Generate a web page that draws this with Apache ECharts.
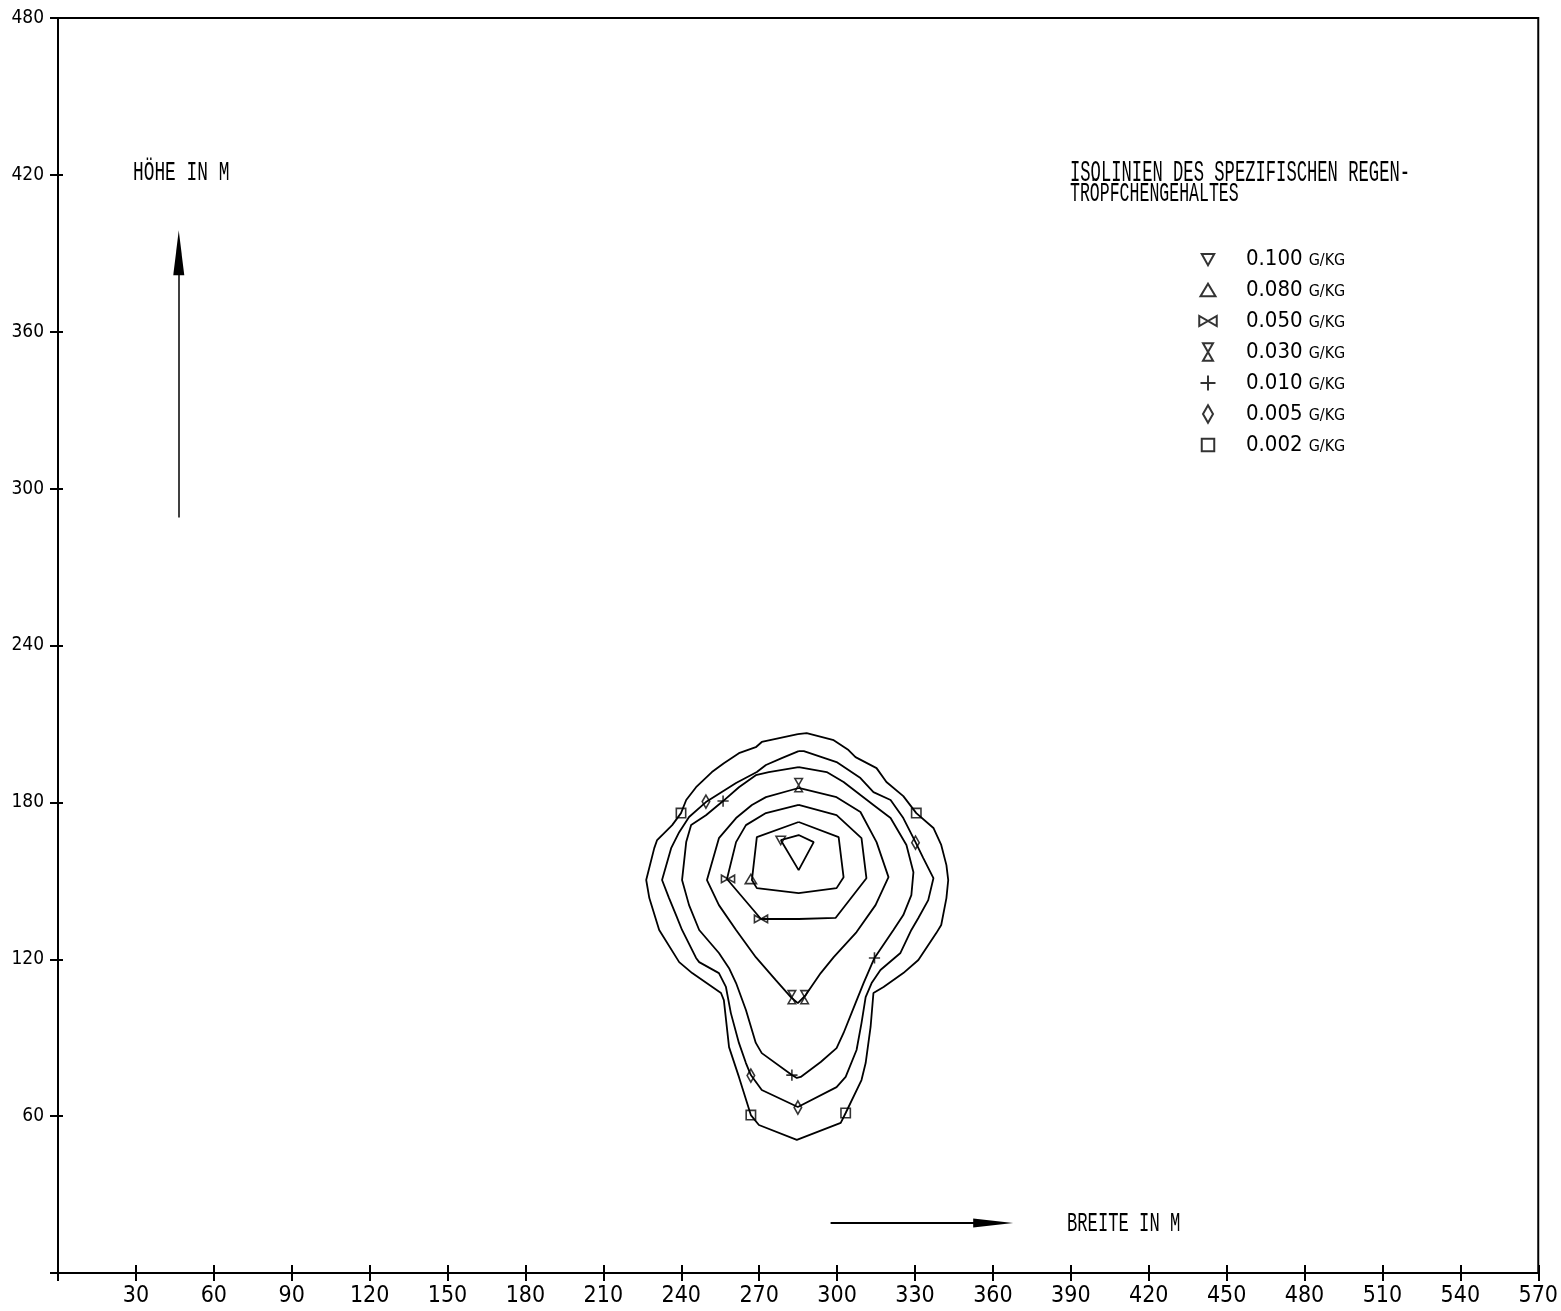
<!DOCTYPE html>
<html>
<head>
<meta charset="utf-8">
<script src="https://cdn.jsdelivr.net/npm/echarts@6/dist/echarts.min.js"></script>
<style>html,body{margin:0;padding:0;background:#fff;}#chart{width:1561px;height:1311px;}</style>
</head>
<body>
<div id="chart"></div>
<script>
// Axis ticks
const xTicks = {min: 0, max: 570, step: 30};
const yTicks = {min: 0, max: 480, step: 60};

// Isolines (x = Breite in m, y = Höhe in m), closed polylines
const iso002 = [[284.9,206.1],[288.3,206.5],[298.7,203.8],[304.4,200.0],[307.1,197.3],[315.2,193.1],[319.0,187.8],[325.5,182.4],[330.5,175.9],[337.1,170.2],[340.1,163.7],[342.1,156.0],[342.8,150.3],[342.1,143.4],[340.1,133.1],[338.2,130.0],[331.3,119.7],[325.5,114.7],[317.9,109.4],[314.0,107.1],[312.9,94.1],[311.0,80.3],[309.4,73.8],[303.3,61.2],[301.4,57.4],[284.5,50.9],[269.9,56.6],[266.8,60.4],[262.2,75.0],[258.4,86.4],[256.4,104.4],[255.3,107.1],[244.2,114.7],[239.2,118.9],[231.5,131.2],[227.7,143.4],[226.5,150.3],[229.6,162.5],[230.7,165.6],[236.5,171.3],[239.9,175.9],[241.9,180.9],[245.7,185.8],[251.8,191.6],[256.4,195.0],[262.2,198.8],[268.7,201.1],[271.0,203.1],[284.9,206.1]];
const iso005 = [[285.2,199.6],[287.2,199.6],[299.8,195.4],[309.0,189.3],[314.0,183.9],[320.6,180.9],[325.5,174.0],[330.2,164.8],[333.2,158.7],[337.1,151.0],[335.1,142.6],[331.3,135.8],[328.6,131.2],[324.4,122.4],[316.7,115.9],[313.3,110.9],[311.0,105.5],[309.4,95.6],[307.5,85.3],[303.3,75.0],[299.8,71.1],[284.9,63.5],[271.0,70.0],[266.8,75.7],[264.9,80.3],[262.2,88.0],[259.1,99.4],[257.2,109.4],[254.5,114.7],[246.9,118.9],[245.7,120.5],[240.3,131.2],[238.0,136.9],[235.3,143.4],[232.6,150.3],[236.1,162.5],[239.2,168.6],[243.0,174.4],[249.5,180.1],[261.1,187.4],[269.1,191.6],[272.6,194.3],[278.7,196.9],[285.2,199.6]];
const iso010 = [[285.2,193.5],[296.0,191.6],[302.5,187.8],[309.0,182.8],[314.0,179.0],[320.6,174.0],[326.7,163.7],[329.4,153.3],[328.6,144.5],[325.5,136.9],[321.7,131.2],[314.4,120.5],[310.2,110.9],[307.1,103.2],[302.5,91.8],[299.8,86.0],[293.7,80.7],[286.0,75.0],[284.5,74.6],[282.6,75.7],[271.0,84.1],[268.7,88.0],[264.9,100.6],[261.1,110.9],[258.4,116.6],[254.5,122.4],[246.9,131.2],[243.0,140.7],[240.3,150.3],[241.9,164.8],[243.8,171.3],[249.5,175.1],[256.1,180.5],[262.2,185.8],[268.7,190.4],[273.7,191.6],[285.2,193.5]];
const iso030 = [[285.2,185.5],[299.8,182.0],[309.0,176.3],[315.2,164.8],[319.8,151.4],[314.8,140.7],[307.5,130.4],[298.7,120.8],[293.7,114.7],[287.9,106.3],[284.9,103.2],[282.2,105.5],[276.4,112.0],[268.7,120.8],[261.1,131.2],[254.5,140.7],[249.9,150.3],[254.5,166.3],[261.1,174.0],[267.2,179.0],[272.6,182.0],[285.2,185.5]];
const iso050 = [[285.2,179.0],[299.8,175.1],[309.4,166.3],[311.3,151.0],[299.4,135.8],[285.2,135.4],[270.7,135.4],[257.6,150.7],[261.1,164.8],[264.9,171.3],[272.6,175.9],[285.2,179.0]];
const iso080 = [[285.2,172.5],[300.6,166.7],[302.5,151.4],[299.8,147.2],[285.2,145.3],[269.1,147.2],[267.2,150.3],[269.1,166.7],[285.2,172.5]];
const iso100 = [[278.3,165.6],[285.2,167.5],[291.0,164.8],[285.2,154.1],[278.3,165.6]];

// Marker positions on the isolines
const mark002 = [[239.9,175.9],[330.5,175.9],[266.8,60.4],[303.3,61.2]];
const mark005 = [[249.5,180.3],[330.2,164.6],[266.8,75.5],[284.9,63.3]];
const mark010 = [[256.1,180.5],[314.4,120.5],[282.6,75.7]];
const mark030 = [[285.2,186.6],[282.6,105.5],[287.5,105.5]];
const mark050 = [[258.0,150.7],[270.7,135.4]];
const mark080 = [[266.8,150.7]];
const mark100 = [[278.3,165.6]];

const levels = ['0.100','0.080','0.050','0.030','0.010','0.005','0.002'];
const unit = 'G/KG';

// Annotation arrows (data units)
const upArrow = [[46.5, 289.0], [46.5, 390.2]];
const rightArrow = [[297.5, 19.1], [360.1, 19.1]];

// Marker shapes in a common 16x16 frame
const F = 'M0,0 M16,16 ';
const shapes = {
  '0.100': 'path://' + F + 'M3,4 L13,4 L8,13 Z',
  '0.080': 'path://' + F + 'M2,13 L14,13 L8,3 Z',
  '0.050': 'path://' + F + 'M1,4 L1,12 L15,4 L15,12 Z',
  '0.030': 'path://' + F + 'M4,1 L12,1 L4,15 L12,15 Z',
  '0.010': 'path://' + F + 'M2,8 L14,8 M8,2 L8,14',
  '0.005': 'path://' + F + 'M8,1 L12,8 L8,15 L4,8 Z',
  '0.002': 'path://' + F + 'M3,3 L13,3 L13,13 L3,13 Z'
};
const isoData = {'0.100': iso100,'0.080': iso080,'0.050': iso050,'0.030': iso030,'0.010': iso010,'0.005': iso005,'0.002': iso002};
const markData = {'0.100': mark100,'0.080': mark080,'0.050': mark050,'0.030': mark030,'0.010': mark010,'0.005': mark005,'0.002': mark002};

// Long narrow arrow heads (square frame so the symbol keeps its slim shape)
const headUp = 'path://M0,0 M45,45 M22.5,0 L28,45 L17,45 Z';
const headRight = 'path://M0,0 M40,40 M20,0 L24.5,40 L15.5,40 Z';

const NARROW = '"Liberation Sans Narrow","DejaVu Sans Condensed","Liberation Sans",sans-serif';
const MONO = '"Liberation Mono","DejaVu Sans Mono",monospace';

const series = [];
levels.forEach(l => {
  series.push({
    name: 'iso ' + l, type: 'line', data: isoData[l], symbol: 'none', silent: true,
    lineStyle: {color: '#000', width: 1.8}, z: 2
  });
});
levels.forEach(l => {
  series.push({
    name: l, type: 'scatter', data: markData[l], symbol: shapes[l], symbolSize: 15,
    itemStyle: {color: 'rgba(0,0,0,0)', borderColor: '#000', borderWidth: 1.6}, z: 3
  });
});
series.push({
  type: 'lines', coordinateSystem: 'cartesian2d', polyline: false, silent: true,
  symbol: ['none', headUp], symbolSize: [0, 45],
  lineStyle: {color: '#000', width: 1.5, opacity: 1},
  data: [{coords: upArrow}]
});
series.push({
  type: 'lines', coordinateSystem: 'cartesian2d', polyline: false, silent: true,
  symbol: ['none', headRight], symbolSize: [0, 40],
  lineStyle: {color: '#000', width: 1.8, opacity: 1},
  data: [{coords: rightArrow}]
});

const hideZero = v => (v === 0 ? '' : String(v));
const baseX = {type: 'value', min: xTicks.min, max: xTicks.max, interval: xTicks.step, splitLine: {show: false}};
const baseY = {type: 'value', min: yTicks.min, max: yTicks.max, interval: yTicks.step, splitLine: {show: false}};

const chart = echarts.init(document.getElementById('chart'), null, {renderer: 'canvas'});
chart.setOption({
  animation: false,
  backgroundColor: '#fff',
  grid: {left: 58, right: 19, top: 18, bottom: 38, show: true, borderColor: '#000', borderWidth: 2, backgroundColor: 'transparent'},
  xAxis: [
    Object.assign({}, baseX, {
      position: 'bottom',
      axisLine: {show: true, lineStyle: {color: '#000', width: 2}},
      axisTick: {show: true, inside: false, length: 8, lineStyle: {color: '#000', width: 2}},
      axisLabel: {formatter: hideZero, color: '#000', fontFamily: NARROW, fontSize: 23, margin: 12, showMinLabel: true, showMaxLabel: true}
    }),
    Object.assign({}, baseX, {
      position: 'bottom',
      axisLine: {show: false},
      axisTick: {show: true, inside: true, length: 8, lineStyle: {color: '#000', width: 2}},
      axisLabel: {show: false}
    })
  ],
  yAxis: [
    Object.assign({}, baseY, {
      position: 'left',
      axisLine: {show: true, lineStyle: {color: '#000', width: 2}},
      axisTick: {show: true, inside: false, length: 8, lineStyle: {color: '#000', width: 2}},
      axisLabel: {formatter: hideZero, color: '#000', fontFamily: NARROW, fontSize: 19, margin: 14, showMinLabel: true, showMaxLabel: true}
    }),
    Object.assign({}, baseY, {
      position: 'left',
      axisLine: {show: false},
      axisTick: {show: true, inside: true, length: 5, lineStyle: {color: '#000', width: 2}},
      axisLabel: {show: false}
    })
  ],
  legend: {
    data: levels.map(l => ({name: l, icon: shapes[l]})),
    orient: 'vertical', left: 1197, top: 248, padding: 0,
    itemWidth: 20, itemHeight: 20, itemGap: 9, selectedMode: false,
    itemStyle: {color: 'rgba(0,0,0,0)', borderColor: '#000', borderWidth: 2},
    formatter: name => '{v|' + name + '}{u|' + unit + '}',
    textStyle: {
      color: '#000',
      rich: {
        v: {fontFamily: NARROW, fontSize: 22, lineHeight: 20, color: '#000', padding: [0, 6, 0, 23]},
        u: {fontFamily: NARROW, fontSize: 16, lineHeight: 16, color: '#000', verticalAlign: 'bottom'}
      }
    }
  },
  graphic: [
    {type: 'text', x: 133, y: 173, scaleX: 0.686, scaleY: 1.05, silent: true,
     style: {text: 'HÖHE IN M', fontFamily: MONO, fontSize: 26, fill: '#000', align: 'left', verticalAlign: 'middle'}},
    {type: 'text', x: 1070, y: 173, scaleX: 0.636, scaleY: 1.1, silent: true,
     style: {text: 'ISOLINIEN DES SPEZIFISCHEN REGEN-', fontFamily: MONO, fontSize: 27, fill: '#000', align: 'left', verticalAlign: 'middle'}},
    {type: 'text', x: 1070, y: 194, scaleX: 0.636, scaleY: 1.05, silent: true,
     style: {text: 'TRÖPFCHENGEHALTES', fontFamily: MONO, fontSize: 26, fill: '#000', align: 'left', verticalAlign: 'middle'}},
    {type: 'text', x: 1067, y: 1224, scaleX: 0.66, scaleY: 1.05, silent: true,
     style: {text: 'BREITE IN M', fontFamily: MONO, fontSize: 26, fill: '#000', align: 'left', verticalAlign: 'middle'}}
  ],
  series: series
});
</script>
</body>
</html>
